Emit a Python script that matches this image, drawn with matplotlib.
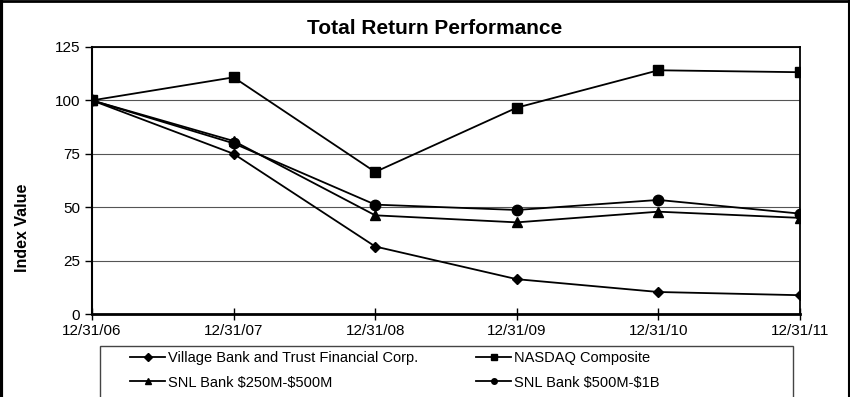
import matplotlib.pyplot as plt
from matplotlib.lines import Line2D

plt.rcParams['font.family'] = ['Liberation Sans', 'DejaVu Sans']

dates = ['12/31/06', '12/31/07', '12/31/08', '12/31/09', '12/31/10', '12/31/11']
village = [100, 75.0, 31.6, 16.3, 10.3, 8.8]
nasdaq = [100, 110.8, 66.5, 96.6, 114.1, 113.2]
snl_250_500 = [100, 81.0, 46.2, 42.9, 47.9, 45.0]
snl_500_1b = [100, 79.9, 51.2, 48.7, 53.4, 47.0]

fig = plt.figure(figsize=(8.5, 3.97), dpi=100)
ax = fig.add_axes([92 / 850, 1 - 314 / 397, 708 / 850, 267 / 397])

x = range(len(dates))
l_village = ax.plot(x, village, color='black', marker='D', markersize=5, lw=1.3,
                    label='Village Bank and Trust Financial Corp.')[0]
l_nasdaq = ax.plot(x, nasdaq, color='black', marker='s', markersize=7.5, lw=1.3,
                   label='NASDAQ Composite')[0]
l_250 = ax.plot(x, snl_250_500, color='black', marker='^', markersize=7.5, lw=1.3,
                label='SNL Bank \\$250M-\\$500M')[0]
l_500 = ax.plot(x, snl_500_1b, color='black', marker='o', markersize=7.5, lw=1.3,
                label='SNL Bank \\$500M-\\$1B')[0]

ax.set_xlim(0, len(dates) - 1)
ax.set_ylim(0, 125)
ax.set_yticks([0, 25, 50, 75, 100, 125])
ax.set_xticks(list(x))
ax.set_xticklabels(dates)
ax.tick_params(axis='both', labelsize=11, length=5, width=1)
ax.tick_params(axis='x', direction='inout', length=8)
ax.grid(axis='y', color='#555555', lw=0.8)
ax.set_axisbelow(True)
for s in ax.spines.values():
    s.set_linewidth(1.3)
ax.spines['bottom'].set_linewidth(2)
ax.spines['left'].set_linewidth(1.5)

ax.set_ylabel('Index Value', fontsize=11.5, fontweight='bold')
ax.yaxis.set_label_coords(-0.087, 0.324)
fig.text(435 / 850, 1 - 28 / 397, 'Total Return Performance', fontsize=15,
         fontweight='bold', ha='center', va='center')

# legend box (open at the bottom, cut by the figure edge)
fig.patches.append(plt.Rectangle((100 / 850, -0.1), 693 / 850, 0.1 + 51 / 397,
                                 transform=fig.transFigure, fill=False,
                                 edgecolor='#444444', lw=1))
leg = fig.legend(handles=[l_village, l_250, l_nasdaq, l_500], ncol=2, loc='upper left',
                 bbox_to_anchor=(130 / 850, 1 - 351 / 397), frameon=False,
                 fontsize=10.5, handlelength=2.4, handletextpad=0.2, borderpad=0,
                 labelspacing=0.72, columnspacing=4.0, borderaxespad=0)
for h in leg.legend_handles:
    h.set_markersize(4)

# outer frame around the figure (no bottom edge)
for xs, ys, w in [([0.0015, 0.0015], [0, 1], 3), ([0, 1], [0.9975, 0.9975], 2),
                  ([0.9985, 0.9985], [0, 1], 1.5)]:
    fig.lines.append(Line2D(xs, ys, transform=fig.transFigure, color='black', lw=w))

fig.savefig('out.png', dpi=100)
